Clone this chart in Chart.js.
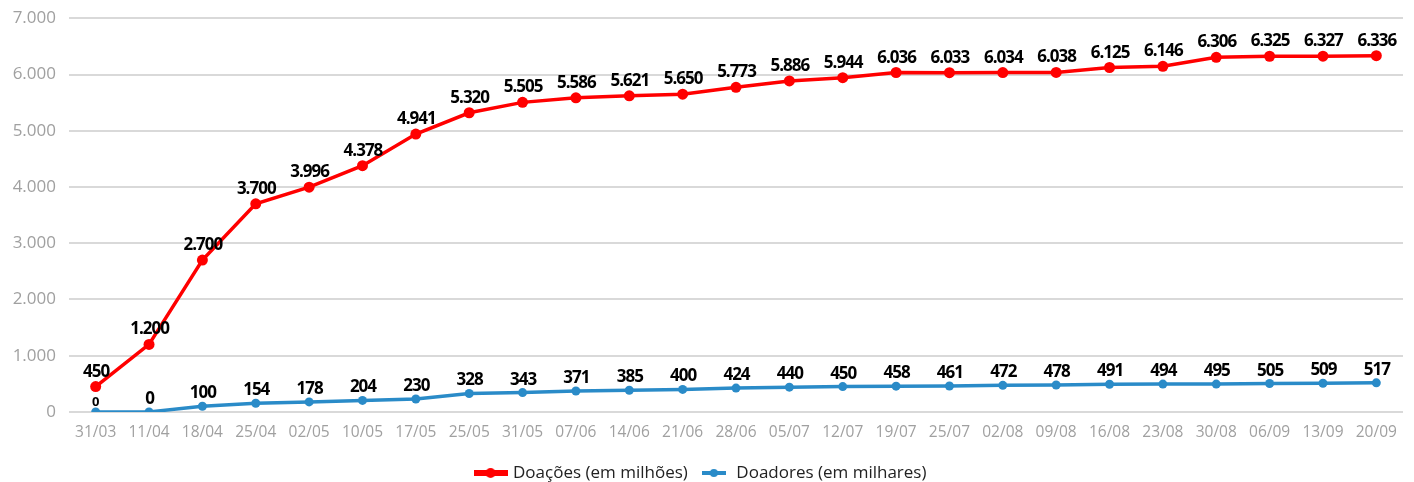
<!DOCTYPE html>
<html>
<head>
<meta charset="utf-8">
<script src="https://cdn.jsdelivr.net/npm/chart.js@4/dist/chart.umd.min.js"></script>
<style>
html,body{margin:0;padding:0;background:#fff;}
#wrap{width:1414px;height:482px;position:relative;}
</style>
</head>
<body>
<div id="wrap"><canvas id="c" width="1414" height="482"></canvas></div>
<script>
const categories = ["31/03","11/04","18/04","25/04","02/05","10/05","17/05","25/05","31/05","07/06","14/06","21/06","28/06","05/07","12/07","19/07","25/07","02/08","09/08","16/08","23/08","30/08","06/09","13/09","20/09"];
const doacoes = [450,1200,2700,3700,3996,4378,4941,5320,5505,5586,5621,5650,5773,5886,5944,6036,6033,6034,6038,6125,6146,6306,6325,6327,6336];
const doadores = [0,0,100,154,178,204,230,328,343,371,385,400,424,440,450,458,461,472,478,491,494,495,505,509,517];
const seriesNames = ["Doações (em milhões)","Doadores (em milhares)"];
const colors = ["#ff0000","#2a8bc8"];

function fmt(v){
  const s = String(Math.round(v));
  return s.replace(/\B(?=(\d{3})+(?!\d))/g, ".");
}

function legendMarker(color, w, lw, r){
  const cv = document.createElement('canvas');
  cv.width = w; cv.height = r*2+2;
  const g = cv.getContext('2d');
  g.strokeStyle = color; g.lineWidth = lw;
  g.beginPath(); g.moveTo(0, cv.height/2); g.lineTo(w, cv.height/2); g.stroke();
  g.fillStyle = color;
  g.beginPath(); g.arc(w/2, cv.height/2, r, 0, Math.PI*2); g.fill();
  return cv;
}
const markers = [legendMarker(colors[0], 34, 6, 5), legendMarker(colors[1], 24, 4, 4)];

const dataLabels = {
  id: 'dataLabels',
  afterDatasetsDraw(chart){
    const ctx = chart.ctx;
    ctx.save();
    ctx.fillStyle = '#000';
    ctx.textAlign = 'center';
    ctx.textBaseline = 'alphabetic';
    chart.data.datasets.forEach((ds, di) => {
      const meta = chart.getDatasetMeta(di);
      meta.data.forEach((pt, i) => {
        const small = (di === 1 && i === 0);
        ctx.font = small ? 'bold 13px "Open Sans"' : 'bold 17px "Open Sans"';
        ctx.letterSpacing = small ? '0px' : '-1px';
        const off = small ? 6 : (di === 0 ? 10 : 8);
        ctx.fillText(fmt(ds.data[i]), pt.x + (small ? 0 : 0.5), pt.y - off);
      });
    });
    ctx.restore();
  }
};

new Chart(document.getElementById('c'), {
  type: 'line',
  data: {
    labels: categories,
    datasets: [
      {label: seriesNames[0], data: doacoes, borderColor: colors[0], backgroundColor: colors[0], borderWidth: 3.5, pointRadius: 5.5, pointHoverRadius: 5.5, pointBackgroundColor: colors[0], pointBorderWidth: 0, tension: 0},
      {label: seriesNames[1], data: doadores, borderColor: colors[1], backgroundColor: colors[1], borderWidth: 3.5, pointRadius: 4.5, pointHoverRadius: 4.5, pointBackgroundColor: colors[1], pointBorderWidth: 0, tension: 0}
    ]
  },
  options: {
    responsive: false,
    animation: false,
    layout: {padding: {left: 0, right: 11, top: 18.3, bottom: -9.5}},
    plugins: {
      tooltip: {enabled: false},
      legend: {
        position: 'bottom',
        labels: {
          usePointStyle: true,
          pointStyleWidth: 28,
          padding: 12,
          color: '#222222',
          font: {family: 'Open Sans', size: 17},
          generateLabels(chart){
            const items = Chart.defaults.plugins.legend.labels.generateLabels(chart);
            items.forEach(it => { it.pointStyle = markers[it.datasetIndex]; });
            return items;
          }
        }
      }
    },
    scales: {
      x: {
        offset: true,
        grid: {display: false, drawTicks: false},
        border: {display: false},
        ticks: {color: '#a0a0a0', font: {family: 'Open Sans', size: 15.5}, padding: 11, maxRotation: 0, autoSkip: false}
      },
      y: {
        min: 0, max: 7000,
        afterFit(scale){ scale.width = 69; scale.paddingTop = 0; scale.paddingBottom = 0; },
        grid: {color: '#d9d9d9', lineWidth: 2, drawTicks: false},
        border: {display: false},
        ticks: {stepSize: 1000, color: '#a0a0a0', font: {family: 'Open Sans', size: 17}, padding: 13, callback: v => fmt(v)}
      }
    }
  },
  plugins: [dataLabels]
});
</script>
</body>
</html>
